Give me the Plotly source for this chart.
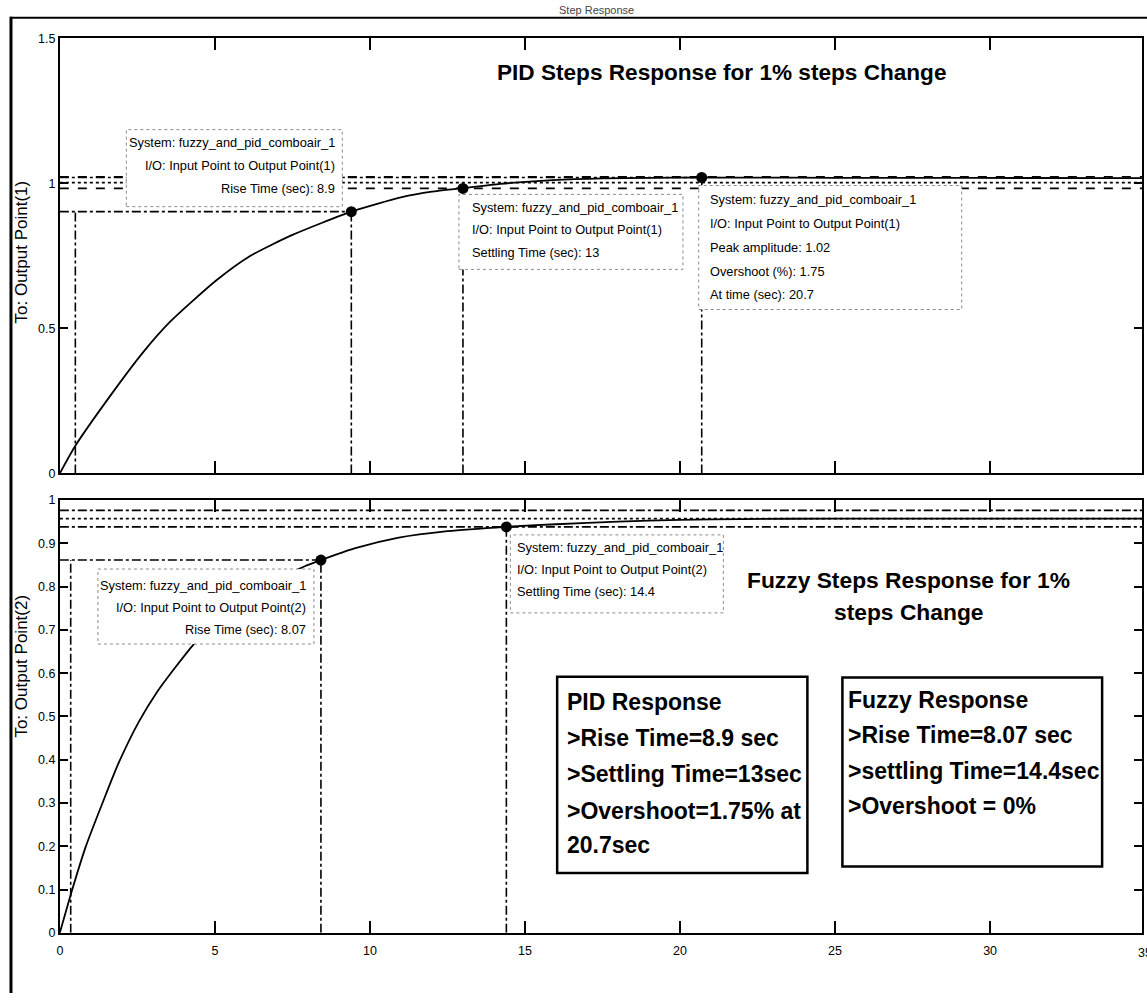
import plotly.graph_objects as go

# ---------------- data ----------------
# PID loop: step response at output point 1 (time in s)
pid_t = [0, 0.5, 1.63, 2.69, 3.55, 5.04, 6.11, 7.5, 9.4, 11.03, 12.0, 13.0,
         14.2, 15.9, 17.5, 19.0, 20.7, 22.0, 25.0, 28.0, 31.0, 34.9]
pid_y = [0, 0.095, 0.268, 0.418, 0.522, 0.665, 0.748, 0.822, 0.902, 0.952, 0.971, 0.983,
         0.998, 1.011, 1.017, 1.019, 1.02, 1.0196, 1.019, 1.0186, 1.0183, 1.018]

# Fuzzy loop: step response at output point 2
fz_t = [0, 0.4, 0.83, 1.42, 1.9, 2.55, 3.13, 3.72, 4.31, 5.2, 6.1, 7.0, 7.9, 8.42,
        9.5, 10.93, 12.5, 14.4, 16.0, 18.0, 20.0, 22.0, 25.0, 30.0, 34.9]
fz_y = [0, 0.1, 0.198, 0.308, 0.393, 0.488, 0.556, 0.613, 0.666, 0.73, 0.78, 0.817, 0.847, 0.861,
        0.888, 0.913, 0.928, 0.938, 0.944, 0.95, 0.954, 0.956, 0.957, 0.957, 0.957]

# step characteristics
pid_final = 1.0025
pid_t10 = 0.5
pid_rise = 8.9
pid_settle = 13
pid_peak = 1.02
pid_overshoot = 1.75
pid_tpeak = 20.7

fz_final = 0.957
fz_t10 = 0.35
fz_rise = 8.07
fz_settle = 14.4
fz_overshoot = 0

x_ticks = [0, 5, 10, 15, 20, 25, 30, 35]
y1_ticks = [0, 0.5, 1, 1.5]
y1_labels = ["0", "0.5", "1", "1.5"]
y2_ticks = [0, 0.1, 0.2, 0.3, 0.4, 0.5, 0.6, 0.7, 0.8, 0.9, 1]
y2_labels = ["0", "0.1", "0.2", "0.3", "0.4", "0.5", "0.6", "0.7", "0.8", "0.9", "1"]

SYSTEM = "fuzzy_and_pid_comboair_1"

# ---------------- layout helpers ----------------
W, H = 1147, 1000
SANS = "Liberation Sans, Arial, sans-serif"
XMAX = 34.9
X_DOMAIN = [57 / W, 1142 / W]


def px(p):
    return p / W


def py(p):
    return 1 - p / H


shapes = []
annotations = []


def hline(xa, ya, y, x0, x1, dash, width=1.6):
    shapes.append(dict(type="line", xref=xa, yref=ya, x0=x0, x1=x1, y0=y, y1=y,
                       line=dict(color="black", width=width, dash=dash), layer="below"))


def vline(xa, ya, x, y0, y1, dash, width=1.6):
    shapes.append(dict(type="line", xref=xa, yref=ya, x0=x, x1=x, y0=y0, y1=y1,
                       line=dict(color="black", width=width, dash=dash), layer="below"))


def datatip(xa, ya, x, y, lines, align, box, text_dx, line_dy, fs=12.8):
    """Data-tip box pinned to a marked point; offsets in pixels (down = positive)."""
    left, right, top, bottom = box
    shapes.append(dict(type="rect", xref=xa, yref=ya, xsizemode="pixel", ysizemode="pixel",
                       xanchor=x, yanchor=y, x0=left, x1=right, y0=-bottom, y1=-top,
                       line=dict(color="#8a8a8a", width=1, dash="dot"),
                       fillcolor="white", layer="above"))
    for s, dy in zip(lines, line_dy):
        annotations.append(dict(xref=xa, yref=ya, x=x, y=y, text=s, showarrow=False,
                                xanchor=align, yanchor="middle", xshift=text_dx, yshift=-dy,
                                font=dict(family=SANS, size=fs, color="black")))


def text_block(lines, left, centers, size=23):
    for s, c in zip(lines, centers):
        annotations.append(dict(xref="paper", yref="paper", x=px(left), y=py(c), text=s,
                                showarrow=False, xanchor="left", yanchor="middle",
                                font=dict(family=SANS, size=size, color="black", weight="bold")))


# ---------------- figure ----------------
fig = go.Figure()

fig.add_trace(go.Scatter(x=pid_t, y=pid_y, mode="lines", xaxis="x", yaxis="y",
                         line=dict(color="black", width=1.8, shape="spline", smoothing=0.6),
                         hoverinfo="skip", showlegend=False))
fig.add_trace(go.Scatter(x=fz_t, y=fz_y, mode="lines", xaxis="x2", yaxis="y2",
                         line=dict(color="black", width=1.8, shape="spline", smoothing=0.6),
                         hoverinfo="skip", showlegend=False))

# characteristic points
pid_t90 = pid_t10 + pid_rise
fz_t90 = fz_t10 + fz_rise
pid_mx = [pid_t90, pid_settle, pid_tpeak]
pid_my = [0.9 * pid_final, 0.98 * pid_final, pid_peak]
fz_mx = [fz_t90, fz_settle]
fz_my = [0.9 * fz_final, 0.98 * fz_final]

fig.add_trace(go.Scatter(x=pid_mx, y=pid_my, mode="markers", xaxis="x", yaxis="y",
                         marker=dict(color="black", size=11), hoverinfo="skip", showlegend=False))
fig.add_trace(go.Scatter(x=fz_mx, y=fz_my, mode="markers", xaxis="x2", yaxis="y2",
                         marker=dict(color="black", size=11), hoverinfo="skip", showlegend=False))

# PID characteristic lines
hline("x", "y", 1.02 * pid_final, 0, XMAX, "dash")
hline("x", "y", pid_final, 0, XMAX, "dot")
hline("x", "y", 0.98 * pid_final, 0, XMAX, "dash")
hline("x", "y", 0.9 * pid_final, 0, pid_t90, "dashdot")
hline("x", "y", pid_peak, 0, pid_tpeak, "dashdot")
vline("x", "y", pid_t10, 0, 0.9 * pid_final, "dashdot")
vline("x", "y", pid_t90, 0, 0.9 * pid_final, "dashdot")
vline("x", "y", pid_settle, 0, 0.98 * pid_final, "dashdot")
vline("x", "y", pid_tpeak, 0, pid_peak, "dashdot")

# Fuzzy characteristic lines
hline("x2", "y2", 1.02 * fz_final, 0, XMAX, "dashdot")
hline("x2", "y2", fz_final, 0, XMAX, "dot")
hline("x2", "y2", 0.98 * fz_final, 0, XMAX, "dashdot")
hline("x2", "y2", 0.9 * fz_final, 0, fz_t90, "dashdot")
vline("x2", "y2", fz_t10, 0, 0.9 * fz_final, "dashdot")
vline("x2", "y2", fz_t90, 0, 0.9 * fz_final, "dashdot")
vline("x2", "y2", fz_settle, 0, 0.98 * fz_final, "dashdot")

# data tips
io1 = "I/O: Input Point to Output Point(1)"
io2 = "I/O: Input Point to Output Point(2)"
datatip("x", "y", pid_mx[0], pid_my[0],
        [f"System: {SYSTEM}", io1, f"Rise Time (sec): {pid_rise:g}"],
        "right", (-225, -9, -82, -5), -14, [-69, -46, -23])
datatip("x", "y", pid_mx[1], pid_my[1],
        [f"System: {SYSTEM}", io1, f"Settling Time (sec): {pid_settle:g}"],
        "left", (-4, 220, 6, 81), 7, [19, 41.5, 64])
datatip("x", "y", pid_mx[2], pid_my[2],
        [f"System: {SYSTEM}", io1, f"Peak amplitude: {pid_peak:g}",
         f"Overshoot (%): {pid_overshoot:g}", f"At time (sec): {pid_tpeak:g}"],
        "left", (-3, 260, 8, 132), 6, [22, 46, 70, 94, 117])
datatip("x2", "y2", fz_mx[0], fz_my[0],
        [f"System: {SYSTEM}", io2, f"Rise Time (sec): {fz_rise:g}"],
        "right", (-223, -7, 9, 84), -13, [25, 47, 69])
datatip("x2", "y2", fz_mx[1], fz_my[1],
        [f"System: {SYSTEM}", io2, f"Settling Time (sec): {fz_settle:g}"],
        "left", (4, 217, 8, 86), 9, [21, 43, 65])

# headings
annotations.append(dict(xref="paper", yref="paper", x=px(720), y=py(66), showarrow=False,
                        text="PID Steps Response for 1% steps Change", xanchor="center",
                        yanchor="middle",
                        font=dict(family=SANS, size=22.6, color="black", weight="bold")))
for s, c in zip(["Fuzzy Steps Response for 1%", "steps Change"], [581, 614]):
    annotations.append(dict(xref="paper", yref="paper", x=px(908), y=py(c), showarrow=False,
                            text=s, xanchor="center", yanchor="middle",
                            font=dict(family=SANS, size=22.8, color="black", weight="bold")))

# summary boxes
shapes.append(dict(type="rect", xref="paper", yref="paper", x0=px(555.6), x1=px(806.5),
                   y0=py(878.3), y1=py(679.3), line=dict(color="black", width=2.5),
                   fillcolor="white", layer="above"))
shapes.append(dict(type="rect", xref="paper", yref="paper", x0=px(841.6), x1=px(1102),
                   y0=py(871.7), y1=py(680), line=dict(color="black", width=2.5),
                   fillcolor="white", layer="above"))
text_block(["PID Response",
            f"&gt;Rise Time={pid_rise:g} sec",
            f"&gt;Settling Time={pid_settle:g}sec",
            f"&gt;Overshoot={pid_overshoot:g}% at",
            f"{pid_tpeak:g}sec"],
           563, [705, 741.7, 778.3, 815, 850])
text_block(["Fuzzy Response",
            f"&gt;Rise Time={fz_rise:g} sec",
            f"&gt;settling Time={fz_settle:g}sec",
            f"&gt;Overshoot = {fz_overshoot:g}%"],
           845.5, [703.3, 738.3, 775, 810])

# axis captions
annotations.append(dict(xref="paper", yref="paper", x=px(19), y=py(248), showarrow=False,
                        text="To: Output Point(1)", textangle=-90, xanchor="center",
                        yanchor="middle", font=dict(family=SANS, size=17, color="black")))
annotations.append(dict(xref="paper", yref="paper", x=px(19), y=py(668), showarrow=False,
                        text="To: Output Point(2)", textangle=-90, xanchor="center",
                        yanchor="middle", font=dict(family=SANS, size=17, color="black")))
annotations.append(dict(xref="paper", yref="paper", x=px(595), y=py(3), showarrow=False,
                        text="Step Response", xanchor="center", yanchor="middle",
                        font=dict(family=SANS, size=11, color="#444")))
# the last tick (35) falls just past the visible range; its label is placed through the
# same linear scale and is cut by the window edge
x35 = X_DOMAIN[0] + x_ticks[-1] / XMAX * (X_DOMAIN[1] - X_DOMAIN[0])
annotations.append(dict(xref="paper", yref="paper", x=x35, y=py(939), text=str(x_ticks[-1]),
                        showarrow=False, xanchor="center", yanchor="top", yshift=-11,
                        font=dict(family=SANS, size=12.5, color="black")))

# outer frame
shapes.append(dict(type="line", xref="paper", yref="paper", x0=px(8), x1=px(8), y0=py(10), y1=py(1000),
                   line=dict(color="black", width=3)))
shapes.append(dict(type="line", xref="paper", yref="paper", x0=px(7), x1=px(1147), y0=py(11), y1=py(11),
                   line=dict(color="black", width=2)))

axis_common = dict(showline=True, mirror="ticks", linecolor="black", linewidth=2,
                   ticks="inside", tickcolor="black", showgrid=False, zeroline=False,
                   tickfont=dict(family=SANS, size=12.5, color="black"))

fig.update_layout(
    width=W, height=H, autosize=False,
    margin=dict(l=0, r=0, t=0, b=0),
    paper_bgcolor="white", plot_bgcolor="white",
    showlegend=False,
    xaxis=dict(domain=X_DOMAIN, range=[0, XMAX], anchor="y", tickvals=x_ticks,
               showticklabels=False, ticklen=12, tickwidth=1.5, **axis_common),
    yaxis=dict(domain=[py(473), py(31.7)], range=[0, 1.5], anchor="x", tickvals=y1_ticks,
               ticktext=y1_labels, ticklen=8, tickwidth=1.5, **axis_common),
    xaxis2=dict(domain=X_DOMAIN, range=[0, XMAX], anchor="y2", tickvals=x_ticks,
                ticktext=[str(v) for v in x_ticks], ticklen=12, tickwidth=1.5,
                ticklabelstandoff=5, **axis_common),
    yaxis2=dict(domain=[py(939), py(500)], range=[0, 1], anchor="x2", tickvals=y2_ticks,
                ticktext=y2_labels, ticklen=8, tickwidth=1.5, **axis_common),
    shapes=shapes,
    annotations=annotations,
)

fig.write_html("out.html")
